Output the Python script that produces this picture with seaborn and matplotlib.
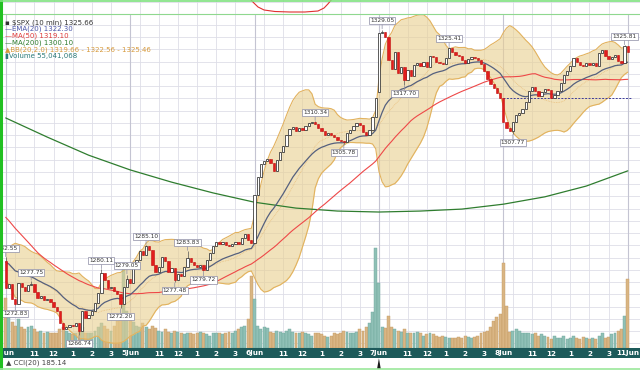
import numpy as np
import pandas as pd
import matplotlib
matplotlib.use("Agg")
import matplotlib.pyplot as plt
import seaborn as sns
from matplotlib.ticker import MultipleLocator, FixedLocator
from matplotlib.lines import Line2D

# ---------------- data (10-minute bars, $SPX, 4 Jun - 8 Jun 2012) ----------------
prior_closes = [1312.5, 1311.8, 1312.3, 1313.0, 1312.1, 1311.4, 1310.8, 1311.9, 1312.6, 1311.2, 1310.3,
                1303.5, 1300.2, 1297.8, 1295.4, 1296.1, 1293.0, 1291.2, 1289.8, 1290.6, 1288.4,
                1286.9, 1287.5, 1285.2, 1284.6, 1286.0, 1284.1, 1283.0, 1284.4, 1285.3,
                1283.2, 1282.6, 1283.4, 1282.9, 1282.1, 1281.6, 1282.4, 1283.0, 1282.2, 1281.5,
                1280.8, 1281.6, 1282.2, 1281.4, 1280.6, 1281.2, 1280.4, 1279.6, 1279.0, 1278.0]

day1 = [1276.2, 1277.2, 1274.0, 1273.0, 1277.4, 1276.4, 1275.6, 1276.9, 1277.2, 1275.4,
        1274.2, 1274.6, 1273.8, 1274.1, 1273.5, 1272.4, 1271.6, 1269.2, 1267.9, 1268.4,
        1268.7, 1268.6, 1269.2, 1267.5, 1271.6, 1270.1, 1270.7, 1271.5, 1273.2, 1275.2,
        1279.4, 1278.0, 1276.2, 1276.6, 1275.7, 1275.1, 1273.0, 1276.4, 1278.2]
day2 = [1277.3, 1280.9, 1282.0, 1283.8, 1283.0, 1284.9, 1284.0, 1281.0, 1279.5, 1280.5,
        1282.6, 1281.8, 1279.6, 1280.3, 1277.9, 1279.2, 1278.8, 1280.5, 1282.5, 1281.6,
        1281.0, 1280.6, 1281.0, 1280.0, 1282.0, 1283.4, 1284.9, 1285.7, 1285.3, 1285.6,
        1285.0, 1284.9, 1285.3, 1285.6, 1285.2, 1286.6, 1287.3, 1286.0, 1285.5]
day3 = [1295.3, 1299.0, 1301.5, 1302.3, 1302.6, 1301.8, 1300.2, 1302.5, 1304.0, 1305.3,
        1307.5, 1308.8, 1309.2, 1308.4, 1309.0, 1308.5, 1309.4, 1309.9, 1310.2, 1309.7,
        1309.0, 1308.3, 1307.5, 1308.0, 1307.6, 1307.2, 1306.6, 1306.2, 1306.0, 1307.9,
        1308.6, 1309.4, 1310.0, 1309.6, 1308.2, 1307.6, 1308.5, 1311.2, 1315.1]
day4 = [1328.3, 1328.6, 1327.6, 1322.8, 1321.0, 1324.5, 1320.2, 1321.3, 1318.8, 1320.8,
        1319.5, 1321.8, 1322.2, 1321.6, 1322.5, 1321.4, 1323.6, 1323.4, 1322.4, 1322.2,
        1322.0, 1323.2, 1325.2, 1324.4, 1323.9, 1323.6, 1322.9, 1322.3, 1323.0, 1323.5,
        1323.3, 1322.9, 1322.0, 1320.5, 1319.0, 1318.0, 1317.2, 1316.0, 1315.0]
day5 = [1310.2, 1309.0, 1308.4, 1310.2, 1311.5, 1312.0, 1312.9, 1314.3, 1316.5, 1317.4,
        1316.6, 1315.5, 1316.2, 1317.0, 1316.8, 1315.0, 1315.6, 1316.4, 1318.2, 1319.8,
        1320.6, 1321.6, 1323.3, 1322.4, 1321.8, 1321.6, 1322.2, 1321.8, 1322.3, 1321.6,
        1324.3, 1324.8, 1323.6, 1323.0, 1323.4, 1323.9, 1322.6, 1322.3, 1325.6, 1324.5]
first_open = 1281.8
gap_opens = {117: 1316.2}

high_marks = {0: 1282.55, 8: 1277.75, 30: 1280.11, 38: 1279.05, 44: 1285.10, 57: 1283.83,
              97: 1310.34, 118: 1329.05, 139: 1325.41, 194: 1325.81}
low_marks = {3: 1272.83, 23: 1266.74, 36: 1272.20, 53: 1277.48, 62: 1279.72,
             106: 1305.78, 125: 1317.70, 159: 1307.77}

# volume, millions of shares
vol1 = [40, 25, 21, 18, 23, 17, 15, 17, 18, 15, 13, 14, 12, 13, 12, 12, 12, 15, 17, 14,
        12, 11, 12, 13, 17, 12, 12, 12, 14, 17, 20, 18, 15, 14, 18, 22, 26, 65, 30]
vol2 = [25, 21, 18, 17, 20, 17, 15, 18, 16, 14, 13, 15, 13, 12, 14, 13, 12, 11, 12, 12,
        11, 12, 13, 12, 11, 10, 12, 12, 12, 11, 12, 13, 12, 14, 15, 17, 18, 23, 58]
vol3 = [39, 18, 15, 17, 16, 13, 12, 14, 13, 12, 14, 15, 13, 12, 12, 13, 12, 11, 10, 12,
        12, 11, 10, 9, 10, 12, 11, 12, 14, 13, 12, 12, 13, 15, 14, 17, 20, 29, 80]
vol4 = [52, 17, 16, 26, 17, 15, 14, 13, 15, 12, 12, 12, 13, 12, 10, 11, 12, 11, 10, 9,
        10, 9, 8, 8, 8, 9, 8, 10, 9, 8, 9, 10, 12, 13, 14, 17, 22, 25, 27]
vol5 = [68, 34, 13, 14, 15, 14, 12, 12, 12, 11, 12, 10, 11, 10, 9, 7, 10, 8, 8, 10,
        7, 8, 10, 8, 7, 9, 8, 7, 8, 7, 10, 12, 8, 9, 11, 12, 14, 15, 26, 55]

ma200_idx = [0, 13, 26, 39, 52, 65, 78, 91, 104, 117, 130, 143, 156, 169, 182, 195]
ma200_val = [1311.0, 1307.1, 1303.4, 1300.4, 1297.9, 1295.7, 1293.8, 1292.6, 1292.0,
             1291.8, 1292.0, 1292.4, 1293.4, 1294.9, 1297.1, 1300.2]
prev_close = 1314.99

# visible tail of the indicator panel above (cropped at the top edge)
upper_ind_idx = [76.6, 77.8, 79.1, 81.0, 84.4, 89.1, 93.8, 97.9, 99.8, 101.0, 102.3]
upper_ind_val = [15, 11, 7, 4, 2.5, 2, 2, 3, 6, 10, 15]
cci_idx = [116.3, 117.0, 117.7]
cci_val = [-1.0, 6.0, -1.0]

day_starts = [0, 39, 78, 117, 156, 195]
day_labels = ["4Jun", "5Jun", "6Jun", "7Jun", "8Jun", "11Jun"]
hour_offsets = [9, 15, 21, 27, 33]
hour_labels = ["11", "12", "1", "2", "3"]

legend_lines = [("\u25AA $SPX (10 min) 1325.66", "#333333"),
                ("\u2014EMA(20) 1322.30", "#4b55a8"),
                ("\u2014MA(50) 1319.10", "#e03a3a"),
                ("\u2014MA(200) 1300.10", "#2f7d2f"),
                ("\u25B2BB(20,2.0) 1319.66 - 1322.56 - 1325.46", "#d79a3c"),
                ("\u25AEVolume 55,041,068", "#2b7a78")]

# ---------------- derived ----------------
closes = day1 + day2 + day3 + day4 + day5
volume = vol1 + vol2 + vol3 + vol4 + vol5
n = len(closes)
idx = np.arange(n)
opens = [first_open] + closes[:-1]
for k, v in gap_opens.items():
    opens[k] = v
opens = np.array(opens)
cl = np.array(closes)
highs = np.maximum(opens, cl)
lows = np.minimum(opens, cl)
for k, v in high_marks.items():
    highs[k] = max(highs[k], v)
for k, v in low_marks.items():
    lows[k] = min(lows[k], v)

full = pd.Series(prior_closes + closes, dtype=float)
npri = len(prior_closes)
ema20 = full.ewm(span=20, adjust=False).mean().values[npri:]
ma50 = full.rolling(50).mean().values[npri:]
mid20 = full.rolling(20).mean().values[npri:]
sd20 = full.rolling(20).std(ddof=0).values[npri:]
bb_up = mid20 + 2 * sd20
bb_lo = mid20 - 2 * sd20

# ---------------- figure ----------------
sns.set_theme(style="white")
plt.rcParams['font.family'] = ['DejaVu Sans']
W, H = 640, 370
fig = plt.figure(figsize=(6.4, 3.7), dpi=100)
fig.patch.set_facecolor("white")

px_per_bar = 3.19
x0px = 5.7
xlim = (-x0px / px_per_bar, (W - x0px) / px_per_bar)
ppx = 4.9                 # pixels per index point
ref_p, ref_y = 1329.05, 29.5
top_px, bot_px = 14, 348
ylim = (ref_p - (bot_px - ref_y) / ppx, ref_p + (ref_y - top_px) / ppx)
rect = [0, (H - bot_px) / H, 1, (bot_px - top_px) / H]

# top strip (bottom edge of the indicator panel above)
axt = fig.add_axes([0, (H - 14) / H, 1, 14 / H])
axt.set_xlim(xlim); axt.set_ylim(0, 14)
axt.yaxis.set_major_locator(MultipleLocator(12.5))
axt.xaxis.set_major_locator(FixedLocator([d + o for d in day_starts[:-1] for o in [3, 9, 15, 21, 27, 33]]))
axt.grid(True, color="#dedee8", lw=0.6)
sns.lineplot(x=upper_ind_idx, y=upper_ind_val, ax=axt, color="#e03030", lw=0.8)
axt.tick_params(left=False, bottom=False, labelleft=False, labelbottom=False)
for s in axt.spines.values():
    s.set_visible(False)

# grid axes
axg = fig.add_axes(rect)
axg.set_xlim(xlim); axg.set_ylim(ylim)
axg.yaxis.set_major_locator(MultipleLocator(2.5))
grid_x = [d + o for d in day_starts[:-1] for o in [3, 9, 15, 21, 27, 33]]
axg.xaxis.set_major_locator(FixedLocator(grid_x))
axg.grid(True, color="#dedee8", lw=0.6)
for d in day_starts:
    axg.axvline(d, color="#c4c4d2", lw=0.8)
axg.tick_params(left=False, bottom=False, labelleft=False, labelbottom=False)
for s in axg.spines.values():
    s.set_visible(False)

# volume axes
axv = fig.add_axes(rect)
axv.patch.set_visible(False)
axv.set_xlim(xlim)
axv.set_ylim(0, (bot_px - top_px) * 0.80)
vcol = ["#8fc0b6" if c >= o else "#d9b584" for o, c in zip(opens, cl)]
vedge = ["#6fa79c" if c >= o else "#c49a62" for o, c in zip(opens, cl)]
axv.bar(idx, volume, width=0.92, color=vcol, edgecolor=vedge, linewidth=0.3)
axv.axis("off")

# price axes
ax = fig.add_axes(rect)
ax.patch.set_visible(False)
ax.set_xlim(xlim); ax.set_ylim(ylim)
ax.axis("off")

ax.fill_between(idx, bb_lo, bb_up, color="#e9cf8f", alpha=0.6, lw=0, zorder=1)
sns.lineplot(x=idx, y=bb_up, ax=ax, color="#e2b25e", lw=0.8, zorder=2)
sns.lineplot(x=idx, y=bb_lo, ax=ax, color="#e2b25e", lw=0.8, zorder=2)
sns.lineplot(x=idx, y=mid20, ax=ax, color="#e8b870", lw=0.6, ls=(0, (1, 1)), alpha=0.8, zorder=2)
sns.lineplot(x=ma200_idx, y=ma200_val, ax=ax, color="#2f7d2f", lw=0.9, zorder=3)
sns.lineplot(x=idx, y=ma50, ax=ax, color="#ee4848", lw=0.8, zorder=3)
sns.lineplot(x=idx, y=ema20, ax=ax, color="#55607e", lw=0.9, zorder=3)
ax.hlines(prev_close, day_starts[4], day_starts[5] + 1.3, color="#3c3c9a", lw=0.7,
          linestyles=(0, (2, 1.5)), zorder=3)

up = cl >= opens
ax.vlines(idx, lows, highs, color="#555555", lw=0.5, zorder=4)
body = np.maximum(np.abs(cl - opens), 0.12)
ax.bar(idx[up], body[up], bottom=np.minimum(opens, cl)[up], width=0.72,
       color="white", edgecolor="#2e2e2e", linewidth=0.55, zorder=5)
ax.bar(idx[~up], body[~up], bottom=np.minimum(opens, cl)[~up], width=0.72,
       color="#e21d1d", edgecolor="#c01010", linewidth=0.4, zorder=5)

bbox = dict(boxstyle="square,pad=0.18", fc="white", ec="#8c8ca4", lw=0.5)
arrow = dict(arrowstyle="-", color="#8c8ca4", lw=0.5, shrinkA=0, shrinkB=0.5)
for k, v in high_marks.items():
    ax.annotate(f"{v:.2f}", xy=(k, v), xytext=(0, 4.5), textcoords="offset points",
                ha="center", va="bottom", fontsize=4.2, color="#333333",
                bbox=bbox, arrowprops=arrow, zorder=6)
for k, v in low_marks.items():
    ax.annotate(f"{v:.2f}", xy=(k, v), xytext=(0, -4.5), textcoords="offset points",
                ha="center", va="top", fontsize=4.2, color="#333333",
                bbox=bbox, arrowprops=arrow, zorder=6)

# x-axis band
axx = fig.add_axes([0, (H - 358) / H, 1, 10 / H])
axx.set_xlim(xlim); axx.set_ylim(0, 1)
axx.set_facecolor("#1d5a5a")
axx.tick_params(left=False, bottom=False, labelleft=False, labelbottom=False)
for s in axx.spines.values():
    s.set_visible(False)
for d, lab in zip(day_starts, day_labels):
    axx.text(d, 0.45, lab, ha="center", va="center", color="white",
             fontsize=5.2, fontweight="bold")
    if d < day_starts[-1]:
        for o, hl in zip(hour_offsets, hour_labels):
            axx.text(d + o, 0.45, hl, ha="center", va="center", color="white",
                     fontsize=5.2, fontweight="bold")

# bottom indicator strip (CCI panel top edge)
axc = fig.add_axes([0, 0.8 / H, 1, 11 / H])
axc.set_xlim(xlim); axc.set_ylim(0, 6)
axc.axis("off")
axc.fill(cci_idx, cci_val, color="#1a1a1a", lw=0)
axc.text(6 / 3.19 - x0px / 3.19, 3.5, "\u25B2 CCI(20) 185.14", fontsize=5, color="#444444",
         va="center", ha="left")

# legend
for j, (txt, col) in enumerate(legend_lines):
    fig.text(5 / W, 1 - (22.5 + 6.7 * j) / H, txt, fontsize=5, color=col,
             va="center", ha="left")

# frame lines
fig.add_artist(Line2D([0, 1], [1 - 14 / H, 1 - 14 / H], color="#8fd88f", lw=0.8))
fig.add_artist(Line2D([1 / W, 1 / W], [0, 1], color="#22c022", lw=2.2))
fig.add_artist(Line2D([0, 1], [1 - 0.8 / H, 1 - 0.8 / H], color="#7ee27e", lw=1.2))
fig.add_artist(Line2D([0, 1], [0.6 / H, 0.6 / H], color="#9be89b", lw=1.2))

fig.savefig("out.png", dpi=100)
